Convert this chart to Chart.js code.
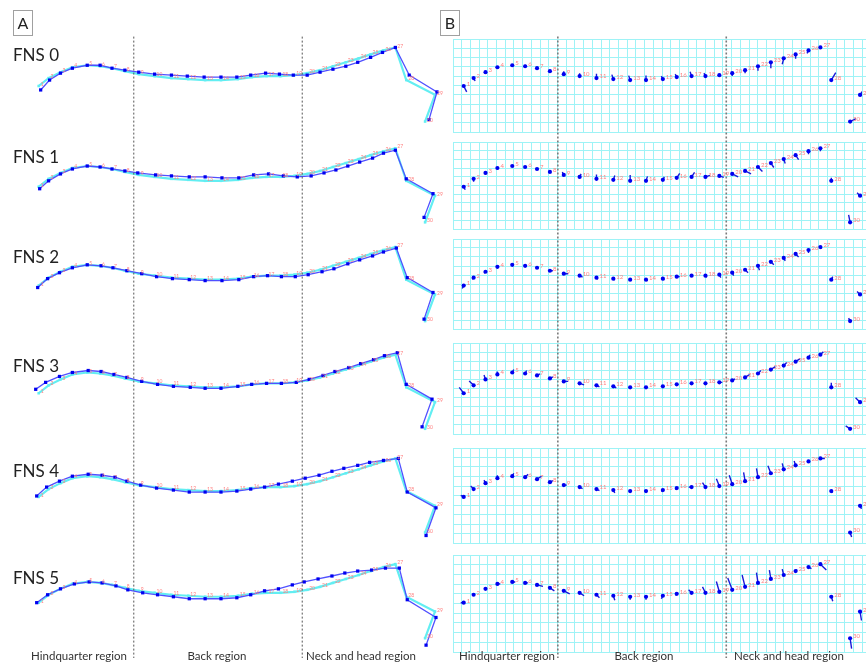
<!DOCTYPE html>
<html>
<head>
<meta charset="utf-8">
<script src="https://cdn.jsdelivr.net/npm/chart.js@4/dist/chart.umd.min.js"></script>
<style>
  html, body { margin: 0; padding: 0; background: #fff; }
  body { width: 866px; height: 662px; position: relative; overflow: hidden; font-family: Lato, "Open Sans", sans-serif; color: #222; }
  canvas { position: absolute; }
  .lbl { position: absolute; white-space: nowrap; }
  .fns { font-size: 17px; left: 13px; line-height: 20px; }
  .region { font-size: 11.5px; color: #333; transform: translateX(-50%); top: 649px; }
  .panel { border: 1px solid #a0a0a0; width: 18px; height: 24px; font-size: 16px; text-align: center; line-height: 24px; top: 10px; }
</style>
</head>
<body>
<canvas id="overlay" width="866" height="662" style="left:0;top:0;z-index:2"></canvas>
<script>
// landmark numbers
var landmarks = ['1','2','3','4','5','6','7','8','9','10','11','12','13','14','15','16','17','18','19','20','21','22','23','24','25','26','27','28','29','30'];

// consensus (mean) shape, cyan
var consensusX = [35,45,57,69,84,97,109,122,136,152,169,186,203,219,236,250,265,279,293,306,319,332,345,358,370,383,395,406,435,425];
var consensusY = [83,75,69,64,62,63,65,68,71,73,75,76,77,77,76,74,73,73,72,70,67,63,59,55,51,47,44,77,92,119];

// group mean shapes, one per FNS class
var fns0X = [37,46,57,69,84,97,109,122,136,152,169,185,202,219,235,249,264,278,292,306,319,332,345,357,370,382,395,409,437,429];
var fns0Y = [87,77,70,65,62,62,65,67,69,71,72,73,74,74,74,72,70,71,72,72,69,66,63,59,54,49,44,72,89,117];
var fns1X = [36,45,57,69,84,97,109,122,135,153,169,187,203,220,237,252,267,282,296,310,323,335,347,359,372,383,395,406,433,424];
var fns1Y = [85,77,70,65,62,63,65,67,69,71,72,73,73,74,74,71,70,72,73,72,69,66,62,58,54,49,46,75,90,114];
var fns2X = [34,44,56,69,84,98,110,124,139,154,170,187,203,220,237,252,266,280,294,307,321,333,347,359,372,383,396,407,433,424];
var fns2Y = [85,76,70,65,62,63,65,68,71,74,76,77,78,78,77,74,73,74,74,72,69,66,61,57,53,49,45,75,90,117];
var fns3X = [32,42,56,69,85,98,111,124,139,155,171,188,203,219,236,250,265,280,295,308,322,334,348,360,373,384,397,406,432,422];
var fns3Y = [79,72,66,62,60,61,64,67,71,74,76,77,78,78,76,74,73,73,72,69,65,61,57,53,49,45,42,74,89,117];
var fns4X = [33,43,56,69,85,99,112,124,138,154,171,187,203,219,235,249,263,277,291,304,318,331,343,357,369,383,398,407,436,426];
var fns4Y = [82,73,67,62,60,61,63,67,71,74,76,78,78,78,77,75,73,70,67,64,61,57,54,51,48,46,44,78,94,122];
var fns5X = [33,44,57,71,86,99,113,125,140,155,171,187,203,219,235,249,263,277,291,303,317,331,344,357,371,385,399,407,436,426];
var fns5Y = [83,75,69,64,62,63,66,70,73,75,77,79,79,79,78,75,71,69,65,62,59,56,53,51,50,48,48,80,98,126];

var groups = ['FNS 0','FNS 1','FNS 2','FNS 3','FNS 4','FNS 5'];
var groupX = [fns0X, fns1X, fns2X, fns3X, fns4X, fns5X];
var groupY = [fns0Y, fns1Y, fns2Y, fns3Y, fns4Y, fns5Y];

// region boundaries (landmark-x units) and names
var regionsA = [131, 301];
var regionsB = [559, 729];
var regionNames = ['Hindquarter region','Back region','Neck and head region'];

// layout
var rowTop = [0, 102, 202, 311, 416, 523];
var shiftB = 429;
var vecScale = 1.5;
var gridTop = [39, 142, 239, 343, 448, 555];
var gridH = [93, 87, 90, 91, 95, 97];
var gridCols = 48, gridRows = 10;

var CYAN = '#62eef2', BLUE = '#0000f0', BLUELINE = '#5050ff', RED = '#ff7f7f', GRIDC = '#9ef3f6';

// deformation grids (panel B) drawn with the axis grid lines
gridTop.forEach(function (t, i) {
  var c = document.createElement('canvas');
  c.width = 420; c.height = gridH[i] + 2;
  c.style.left = '452px'; c.style.top = (t - 1) + 'px'; c.style.zIndex = 1;
  document.body.appendChild(c);
  var axis = function (max) {
    return {
      type: 'linear', min: 0, max: max,
      ticks: { display: false, stepSize: 1, autoSkip: false },
      grid: { color: GRIDC, lineWidth: 1, drawTicks: false },
      border: { display: true, color: GRIDC }
    };
  };
  new Chart(c, {
    type: 'scatter',
    data: { datasets: [] },
    options: {
      responsive: false, animation: false, devicePixelRatio: 1,
      layout: { padding: 1 },
      plugins: { legend: { display: false }, tooltip: { enabled: false } },
      scales: { x: axis(gridCols), y: axis(gridRows) }
    }
  });
});

function pts(xs, ys, dx, dy) {
  return xs.map(function (x, k) { return { x: x + dx, y: ys[k] + dy }; });
}

var datasets = [];
groups.forEach(function (g, r) {
  var dy = rowTop[r];
  // panel A: consensus and group mean
  datasets.push({ data: pts(consensusX, consensusY, 0, dy), showLine: true, borderColor: CYAN, borderWidth: 2.2,
    pointStyle: 'rect', pointRadius: 1.8, backgroundColor: CYAN, pointBorderWidth: 0, numbers: true, order: 3 });
  datasets.push({ data: pts(groupX[r], groupY[r], 0, dy), showLine: true, borderColor: BLUELINE, borderWidth: 1.3,
    pointStyle: 'rect', pointRadius: 2.3, backgroundColor: BLUE, pointBorderWidth: 0, order: 2 });
  // panel B: vectors from consensus toward the group mean
  var vec = [];
  consensusX.forEach(function (x, k) {
    var y = consensusY[k];
    vec.push({ x: x + shiftB, y: y + dy });
    vec.push({ x: x + shiftB + (groupX[r][k] - x) * vecScale, y: y + dy + (groupY[r][k] - y) * vecScale });
    vec.push({ x: null, y: null });
  });
  datasets.push({ data: vec, showLine: true, spanGaps: false, borderColor: '#1a1ad8', borderWidth: 1.4, pointRadius: 0, order: 2 });
  datasets.push({ data: pts(consensusX, consensusY, shiftB, dy), showLine: false, pointStyle: 'circle', pointRadius: 2.1,
    backgroundColor: BLUE, pointBorderWidth: 0, numbers: true, numOffset: 2, order: 1 });
});
regionsA.forEach(function (x) {
  datasets.push({ data: [{ x: x, y: 33 }, { x: x, y: 662 }], showLine: true, borderColor: '#555', borderWidth: 1,
    borderDash: [2, 2], pointRadius: 0, order: 0 });
});
regionsB.forEach(function (x) {
  datasets.push({ data: [{ x: x, y: 33 }, { x: x, y: 662 }], showLine: true, borderColor: '#7a7a7a', borderWidth: 1.6,
    borderDash: [2, 2], pointRadius: 0, order: 0 });
});

var numberLabels = {
  id: 'numberLabels',
  afterDatasetsDraw: function (chart) {
    var ctx = chart.ctx;
    ctx.save();
    ctx.fillStyle = RED;
    ctx.textBaseline = 'bottom';
    chart.data.datasets.forEach(function (ds, i) {
      if (!ds.numbers) return;
      var off = ds.numOffset || 1;
      ctx.font = (ds.numOffset ? 6 : 5) + 'px Lato, sans-serif';
      chart.getDatasetMeta(i).data.forEach(function (p, k) {
        ctx.fillText(landmarks[k], p.x + off + 1, p.y + 1);
      });
    });
    ctx.restore();
  }
};

var hidden = { type: 'linear', display: false };
new Chart(document.getElementById('overlay'), {
  type: 'scatter',
  data: { datasets: datasets },
  options: {
    responsive: false, animation: false, devicePixelRatio: 1,
    layout: { padding: 0 },
    plugins: { legend: { display: false }, tooltip: { enabled: false } },
    scales: {
      x: Object.assign({}, hidden, { min: 0, max: 866 }),
      y: Object.assign({}, hidden, { min: 0, max: 662, reverse: true })
    }
  },
  plugins: [numberLabels]
});

// text
function addLabel(cls, text, css) {
  var d = document.createElement('div');
  d.className = 'lbl ' + cls;
  d.textContent = text;
  Object.assign(d.style, css, { zIndex: 3 });
  document.body.appendChild(d);
}
addLabel('panel', 'A', { left: '13px' });
addLabel('panel', 'B', { left: '440px' });
groups.forEach(function (g, r) { addLabel('fns', g, { top: (45 + rowTop[r]) + 'px' }); });
[79, 217, 361].forEach(function (x, i) { addLabel('region', regionNames[i], { left: x + 'px' }); });
[507, 644, 789].forEach(function (x, i) { addLabel('region', regionNames[i], { left: x + 'px' }); });
</script>
</body>
</html>
